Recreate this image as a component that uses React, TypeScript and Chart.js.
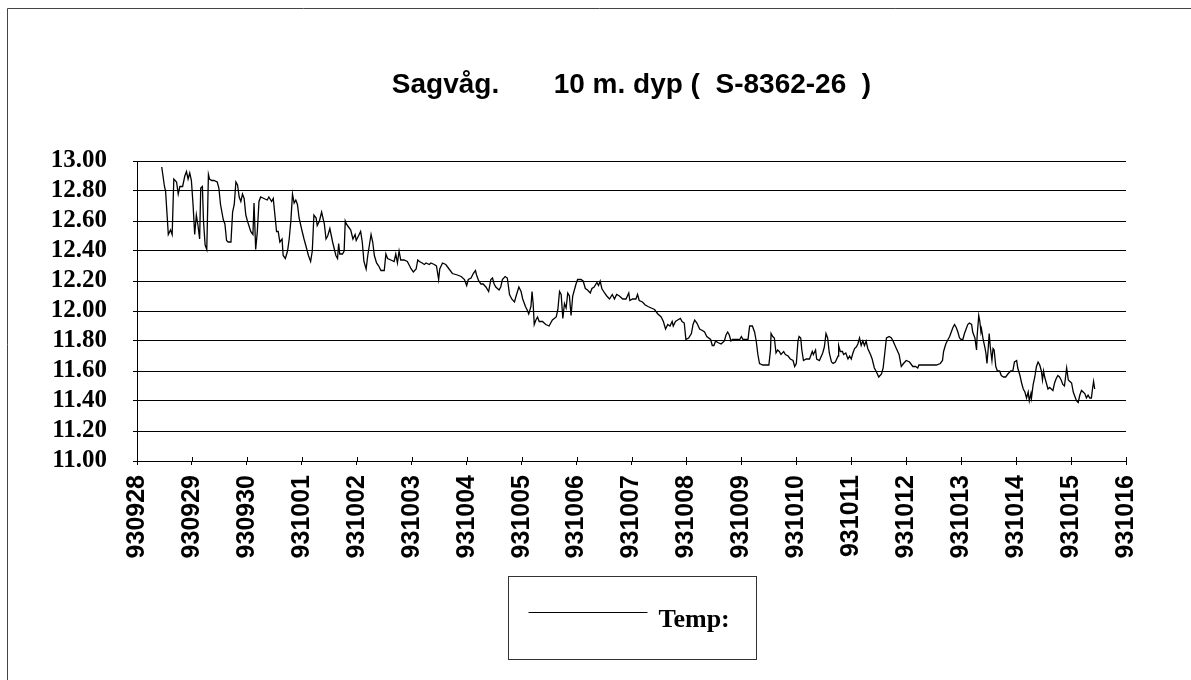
import React, { useEffect, useRef } from "react";
import { Chart, registerables } from "chart.js";

Chart.register(...registerables);

const TITLE = "Sagvåg.       10 m. dyp (  S-8362-26  )";
const SERIES_LABEL = "Temp:";

const dateLabels = [
  "930928", "930929", "930930", "931001", "931002", "931003", "931004",
  "931005", "931006", "931007", "931008", "931009", "931010", "931011",
  "931012", "931013", "931014", "931015", "931016",
];

// time in days since 930928 00:00
const days = [
  0.45, 0.50, 0.52, 0.57, 0.61, 0.64, 0.67, 0.72, 0.75, 0.78, 0.83, 0.87, 0.90, 0.93, 0.96, 0.99,
  1.02, 1.05, 1.08, 1.11, 1.14, 1.16, 1.19, 1.21, 1.24, 1.27, 1.30, 1.32, 1.36, 1.40, 1.46, 1.49,
  1.52, 1.57, 1.60, 1.63, 1.66, 1.71, 1.74, 1.77, 1.80, 1.83, 1.86, 1.89, 1.92, 1.95, 1.98,
  2.01, 2.07, 2.11, 2.13, 2.16, 2.19, 2.22, 2.25, 2.31, 2.37, 2.40, 2.45, 2.48, 2.51, 2.54, 2.57,
  2.60, 2.64, 2.66, 2.70, 2.74, 2.77, 2.80, 2.83, 2.86, 2.89, 2.92, 2.95,
  3.00, 3.04, 3.07, 3.12, 3.16, 3.19, 3.22, 3.26, 3.28, 3.32, 3.36, 3.41, 3.44, 3.47, 3.51,
  3.56, 3.62, 3.65, 3.67, 3.69, 3.74, 3.77, 3.79, 3.81, 3.85, 3.89, 3.93, 3.97, 3.99,
  4.03, 4.07, 4.10, 4.13, 4.17, 4.20, 4.23, 4.26, 4.29, 4.32, 4.36, 4.40, 4.44, 4.50, 4.53, 4.56,
  4.62, 4.68, 4.71, 4.74, 4.77, 4.80, 4.86, 4.92, 4.99,
  5.03, 5.08, 5.11, 5.14, 5.19, 5.23, 5.26, 5.32, 5.35, 5.41, 5.45, 5.49, 5.51, 5.56, 5.62, 5.68,
  5.74, 5.83, 5.90, 5.96,
  6.00, 6.03, 6.08, 6.12, 6.16, 6.18, 6.22, 6.26, 6.30, 6.35, 6.40, 6.44, 6.47, 6.50, 6.53, 6.59,
  6.62, 6.65, 6.70, 6.74, 6.78, 6.82, 6.87, 6.90, 6.95, 6.99,
  7.02, 7.07, 7.11, 7.13, 7.17, 7.19, 7.21, 7.23, 7.26, 7.29, 7.32, 7.38, 7.44, 7.50, 7.56, 7.63,
  7.66, 7.69, 7.72, 7.75, 7.78, 7.81, 7.84, 7.87, 7.90, 7.93, 7.96, 7.99,
  8.02, 8.08, 8.12, 8.16, 8.20, 8.25, 8.28, 8.32, 8.37, 8.40, 8.43, 8.46, 8.51, 8.55, 8.60, 8.65,
  8.69, 8.73, 8.78, 8.84, 8.90, 8.95, 8.97,
  9.02, 9.08, 9.11, 9.14, 9.20, 9.25, 9.30, 9.36, 9.42, 9.48, 9.54, 9.58, 9.62, 9.66, 9.70, 9.74,
  9.76, 9.80, 9.84, 9.89, 9.92, 9.96, 9.99,
  10.04, 10.09, 10.12, 10.15, 10.19, 10.24, 10.29, 10.33, 10.37, 10.44, 10.47, 10.50, 10.53, 10.57,
  10.63, 10.69, 10.72, 10.75, 10.78, 10.81, 10.84, 10.91, 10.97,
  11.00, 11.03, 11.12, 11.15, 11.20, 11.24, 11.27, 11.30, 11.33, 11.39, 11.45, 11.50, 11.53, 11.54,
  11.57, 11.60, 11.63, 11.66, 11.69, 11.72, 11.77, 11.80, 11.85, 11.89, 11.94, 11.97,
  12.00, 12.03, 12.05, 12.08, 12.10, 12.13, 12.18, 12.24, 12.29, 12.31, 12.35, 12.37, 12.42, 12.48,
  12.51, 12.54, 12.57, 12.60, 12.64, 12.67, 12.71, 12.76, 12.77, 12.80, 12.84, 12.86, 12.90, 12.94,
  12.97,
  13.00, 13.03, 13.06, 13.09, 13.12, 13.15, 13.18, 13.21, 13.24, 13.27, 13.30, 13.35, 13.38, 13.42,
  13.45, 13.50, 13.55, 13.58, 13.61, 13.64, 13.69, 13.73, 13.76, 13.82, 13.87, 13.91, 13.95,
  14.00, 14.06, 14.12, 14.17, 14.21, 14.23, 14.30, 14.43, 14.49, 14.55, 14.62, 14.66, 14.68, 14.72,
  14.76, 14.79, 14.82, 14.85, 14.88, 14.91, 14.94, 14.97,
  15.00, 15.03, 15.06, 15.09, 15.12, 15.15, 15.19, 15.21, 15.25, 15.28, 15.29, 15.32, 15.34, 15.36,
  15.37, 15.40, 15.43, 15.45, 15.47, 15.49, 15.51, 15.53, 15.56, 15.58, 15.60, 15.63, 15.66, 15.70,
  15.73, 15.77, 15.81, 15.85, 15.90, 15.94, 15.97,
  16.01, 16.03, 16.07, 16.10, 16.13, 16.16, 16.19, 16.22, 16.24, 16.27, 16.28, 16.31, 16.34, 16.37,
  16.40, 16.43, 16.46, 16.48, 16.50, 16.52, 16.55, 16.58, 16.61, 16.64, 16.67, 16.70, 16.73, 16.76,
  16.79, 16.82, 16.85, 16.88, 16.92, 16.95, 16.98,
  17.01, 17.04, 17.07, 17.10, 17.13, 17.16, 17.19, 17.22, 17.25, 17.28, 17.31, 17.34, 17.37, 17.39,
  17.41, 17.43,
];

// temperature, °C
const temps = [
  12.96, 12.83, 12.80, 12.51, 12.54, 12.51, 12.88, 12.86, 12.78, 12.83, 12.83, 12.90, 12.93, 12.88, 12.92, 12.87,
  12.71, 12.51, 12.64, 12.57, 12.48, 12.82, 12.83, 12.60, 12.44, 12.41, 12.91, 12.88, 12.87, 12.87, 12.86, 12.82,
  12.71, 12.61, 12.58, 12.47, 12.46, 12.46, 12.66, 12.71, 12.86, 12.84, 12.76, 12.73, 12.78, 12.75, 12.64,
  12.60, 12.53, 12.51, 12.72, 12.41, 12.53, 12.73, 12.76, 12.75, 12.74, 12.76, 12.73, 12.75, 12.64, 12.53, 12.53,
  12.46, 12.48, 12.37, 12.35, 12.40, 12.48, 12.60, 12.78, 12.72, 12.74, 12.71, 12.62,
  12.54, 12.48, 12.44, 12.37, 12.33, 12.40, 12.64, 12.62, 12.57, 12.60, 12.66, 12.58, 12.48, 12.50, 12.55,
  12.46, 12.37, 12.35, 12.45, 12.38, 12.38, 12.40, 12.60, 12.58, 12.56, 12.54, 12.48, 12.51, 12.47,
  12.50, 12.53, 12.46, 12.33, 12.28, 12.37, 12.44, 12.51, 12.46, 12.37, 12.32, 12.30, 12.27, 12.27, 12.38, 12.35,
  12.34, 12.33, 12.38, 12.32, 12.40, 12.34, 12.34, 12.33, 12.28,
  12.26, 12.28, 12.34, 12.33, 12.32, 12.31, 12.32, 12.31, 12.32, 12.31, 12.30, 12.21, 12.28, 12.32, 12.31, 12.28,
  12.25, 12.24, 12.23, 12.21,
  12.17, 12.21, 12.22, 12.25, 12.27, 12.24, 12.20, 12.18, 12.18, 12.16, 12.13, 12.21, 12.22, 12.18, 12.16, 12.14,
  12.16, 12.21, 12.23, 12.22, 12.11, 12.08, 12.06, 12.10, 12.16, 12.13,
  12.08, 12.03, 12.00, 11.98, 12.03, 12.13, 12.05, 11.91, 11.94, 11.96, 11.93, 11.93, 11.91, 11.90, 11.94, 11.96,
  12.01, 12.13, 12.11, 11.95, 12.05, 12.02, 12.12, 12.10, 11.97, 12.10, 12.14, 12.18,
  12.21, 12.21, 12.20, 12.15, 12.14, 12.12, 12.15, 12.16, 12.19, 12.17, 12.20, 12.15, 12.12, 12.10, 12.08, 12.11,
  12.08, 12.11, 12.10, 12.08, 12.08, 12.12, 12.07,
  12.08, 12.08, 12.11, 12.07, 12.06, 12.04, 12.03, 12.02, 12.01, 11.98, 11.96, 11.93, 11.88, 11.91, 11.90, 11.93,
  11.90, 11.93, 11.94, 11.95, 11.93, 11.92, 11.81,
  11.82, 11.85, 11.91, 11.94, 11.92, 11.88, 11.87, 11.86, 11.83, 11.81, 11.77, 11.77, 11.80, 11.79,
  11.78, 11.80, 11.84, 11.86, 11.84, 11.80, 11.81, 11.81, 11.81,
  11.83, 11.81, 11.81, 11.90, 11.90, 11.86, 11.80, 11.71, 11.65, 11.64, 11.64, 11.64, 11.74, 11.85,
  11.83, 11.82, 11.72, 11.74, 11.73, 11.71, 11.73, 11.71, 11.70, 11.68, 11.67, 11.63,
  11.65, 11.80, 11.83, 11.82, 11.74, 11.67, 11.68, 11.68, 11.73, 11.71, 11.74, 11.68, 11.67, 11.72,
  11.76, 11.85, 11.82, 11.72, 11.66, 11.65, 11.66, 11.70, 11.77, 11.73, 11.73, 11.71, 11.72, 11.68,
  11.70,
  11.68, 11.72, 11.75, 11.76, 11.78, 11.82, 11.77, 11.80, 11.77, 11.80, 11.75, 11.71, 11.68, 11.62,
  11.60, 11.56, 11.58, 11.62, 11.72, 11.82, 11.83, 11.82, 11.80, 11.75, 11.71, 11.63, 11.65,
  11.67, 11.66, 11.63, 11.63, 11.62, 11.64, 11.64, 11.64, 11.64, 11.64, 11.65, 11.67, 11.73, 11.78,
  11.81, 11.83, 11.86, 11.89, 11.91, 11.89, 11.86, 11.82,
  11.81, 11.81, 11.85, 11.88, 11.91, 11.92, 11.91, 11.86, 11.82, 11.74, 11.83, 11.97, 11.93, 11.86,
  11.88, 11.81, 11.76, 11.72, 11.65, 11.74, 11.85, 11.76, 11.67, 11.75, 11.74, 11.63, 11.60, 11.60,
  11.57, 11.56, 11.56, 11.58, 11.60, 11.60, 11.66,
  11.67, 11.62, 11.57, 11.52, 11.48, 11.46, 11.42, 11.46, 11.40, 11.45, 11.42, 11.51, 11.56, 11.63,
  11.66, 11.64, 11.60, 11.54, 11.60, 11.56, 11.52, 11.48, 11.49, 11.48, 11.47, 11.52, 11.55, 11.57,
  11.56, 11.54, 11.51, 11.50, 11.62, 11.54, 11.53,
  11.52, 11.46, 11.43, 11.40, 11.39, 11.44, 11.47, 11.46, 11.45, 11.42, 11.44, 11.42, 11.42, 11.48,
  11.53, 11.48,
];

const Y_MIN = 11;
const Y_MAX = 13;
const Y_STEP = 0.2;

const decorPlugin = {
  id: "decor",
  beforeDraw(chart: any) {
    const ctx = chart.ctx;
    ctx.save();
    ctx.fillStyle = "#ffffff";
    ctx.fillRect(0, 0, chart.width, chart.height);
    // outer frame (left + top edges)
    ctx.strokeStyle = "#444";
    ctx.lineWidth = 1;
    ctx.beginPath();
    ctx.moveTo(7.5, chart.height);
    ctx.lineTo(7.5, 8.5);
    ctx.lineTo(chart.width, 8.5);
    ctx.stroke();
    ctx.restore();
  },
  afterDraw(chart: any) {
    const ctx = chart.ctx;
    const area = chart.chartArea;
    const cx = (area.left + area.right) / 2;
    ctx.save();
    // title
    ctx.fillStyle = "#000";
    ctx.font = 'bold 28px "Liberation Sans", Arial, sans-serif';
    ctx.textAlign = "center";
    ctx.textBaseline = "alphabetic";
    ctx.fillText(TITLE, cx, 93);

    // inner tick marks on x axis
    const xs = chart.scales.x;
    ctx.strokeStyle = "#000";
    ctx.lineWidth = 1;
    ctx.beginPath();
    for (let i = 0; i < dateLabels.length; i++) {
      const px = Math.round(xs.getPixelForValue(i)) + 0.5;
      ctx.moveTo(px, area.bottom);
      ctx.lineTo(px, area.bottom - 4);
    }
    ctx.stroke();

    // legend box
    const bw = 248;
    const bh = 83;
    const bx = Math.round(cx - bw / 2) + 0.5;
    const by = 576.5;
    ctx.strokeStyle = "#333";
    ctx.strokeRect(bx, by, bw, bh);
    ctx.strokeStyle = "#000";
    ctx.beginPath();
    ctx.moveTo(bx + 20, 612.5);
    ctx.lineTo(bx + 139, 612.5);
    ctx.stroke();
    ctx.font = 'bold 26px "Liberation Serif", "Times New Roman", serif';
    ctx.textAlign = "left";
    ctx.fillText(SERIES_LABEL, bx + 150, 627);
    ctx.restore();
  },
};

export default function App() {
  const canvasRef = useRef<HTMLCanvasElement | null>(null);

  useEffect(() => {
    const canvas = canvasRef.current;
    if (!canvas) return;
    const points = days.map((d, i) => ({ x: d, y: temps[i] }));
    const chart = new Chart(canvas, {
      type: "line",
      data: {
        datasets: [
          {
            label: SERIES_LABEL,
            data: points,
            borderColor: "#000",
            borderWidth: 1.3,
            pointRadius: 0,
            tension: 0,
            fill: false,
          },
        ],
      },
      options: {
        animation: false,
        responsive: false,
        devicePixelRatio: 1,
        events: [],
        layout: { padding: { left: 8, top: 161, right: 65, bottom: 0 } },
        plugins: {
          legend: { display: false },
          title: { display: false },
          tooltip: { enabled: false },
        },
        scales: {
          x: {
            type: "linear",
            min: 0,
            max: dateLabels.length - 1,
            afterFit: (scale: any) => {
              scale.height = 219;
            },
            afterBuildTicks: (scale: any) => {
              scale.ticks = dateLabels.map((_, i) => ({ value: i }));
            },
            ticks: {
              autoSkip: false,
              maxRotation: 90,
              minRotation: 90,
              padding: 10,
              color: "#000",
              font: { family: "'Liberation Sans', Arial, sans-serif", weight: "bold", size: 25 },
              callback: (v: any) => dateLabels[Math.round(Number(v))] ?? "",
            },
            grid: {
              display: true,
              drawOnChartArea: false,
              drawTicks: true,
              tickLength: 4,
              color: "#000",
              lineWidth: 1,
            },
            border: { display: true, color: "#000", width: 1 },
          },
          y: {
            type: "linear",
            min: Y_MIN,
            max: Y_MAX,
            afterFit: (scale: any) => {
              scale.width = 129;
            },
            ticks: {
              stepSize: Y_STEP,
              autoSkip: false,
              padding: 26,
              color: "#000",
              font: { family: "'Liberation Serif', 'Times New Roman', serif", weight: "bold", size: 25 },
              callback: (v: any) => Number(v).toFixed(2),
            },
            grid: {
              display: true,
              drawOnChartArea: true,
              drawTicks: true,
              tickLength: 4,
              color: "#000",
              lineWidth: 1,
            },
            border: { display: true, color: "#000", width: 1 },
          },
        },
      },
      plugins: [decorPlugin],
    });
    return () => chart.destroy();
  }, []);

  return (
    <div style={{ position: "absolute", left: 0, top: 0, width: 1191, height: 680, overflow: "hidden", background: "#fff" }}>
      <canvas ref={canvasRef} width={1191} height={680} style={{ display: "block" }} />
    </div>
  );
}
